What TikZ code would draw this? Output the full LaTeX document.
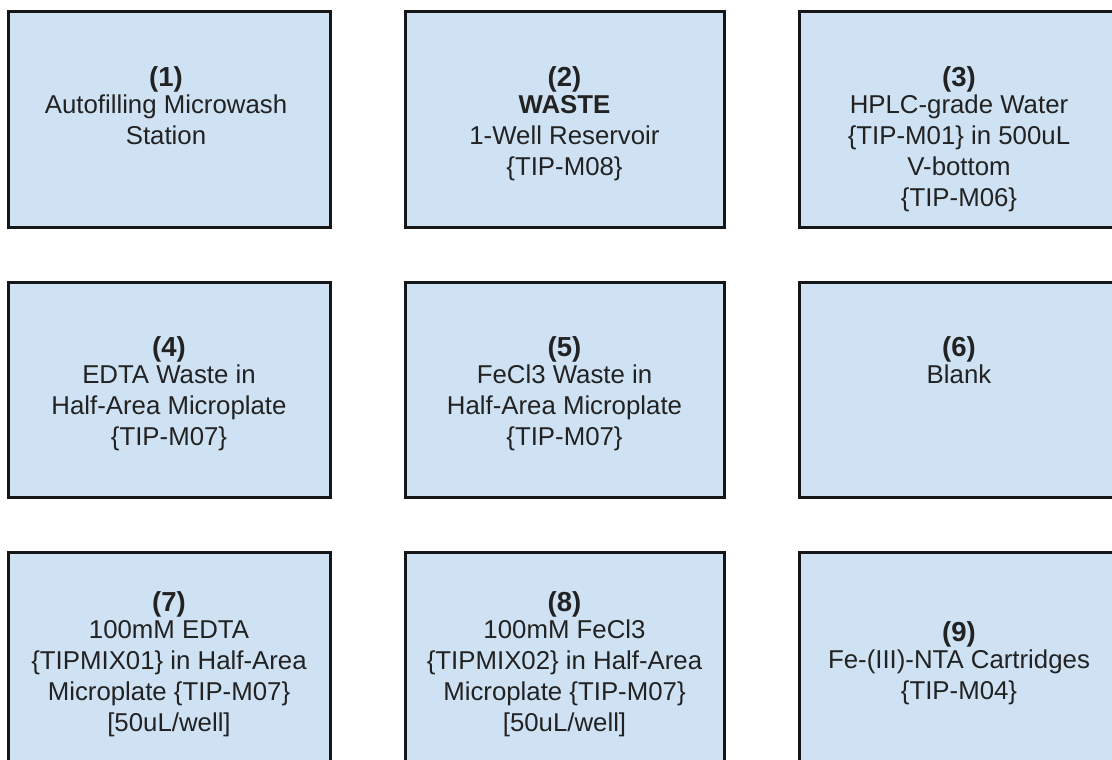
\documentclass[tikz,border=0pt]{standalone}
\usepackage{fontspec}
\setmainfont{Liberation Sans}
\definecolor{boxfill}{HTML}{CFE2F3}
\definecolor{boxline}{HTML}{161616}
\definecolor{txtcol}{HTML}{222222}
\begin{document}
\begin{tikzpicture}[x=1pt,y=-1pt,
  cell/.style={rectangle, draw=boxline, line width=3pt, fill=boxfill,
    anchor=north west, inner sep=0pt, outer sep=0pt,
    minimum width=#1},
  cell/.default=320pt,
  txt/.style={anchor=north, align=center, inner sep=0pt, outer sep=0pt,
    font=\fontsize{25.8}{31}\selectfont, text=txtcol}]
\useasboundingbox (0,0) rectangle (1112,760);
\clip (0,0) rectangle (1112,760);
% row 1
\node[cell=321.5pt, minimum height=215pt] (b1) at (8.5,12) {};
\node[cell=319pt,   minimum height=215pt] (b2) at (405,12) {};
\node[cell=320pt,   minimum height=215pt] (b3) at (799,12) {};
% row 2
\node[cell=321.5pt, minimum height=214.5pt] (b4) at (8.5,282.5) {};
\node[cell=319pt,   minimum height=214.5pt] (b5) at (405,282.5) {};
\node[cell=320pt,   minimum height=214.5pt] (b6) at (799,282.5) {};
% row 3
\node[cell=321.5pt, minimum height=230pt] (b7) at (8.5,552.5) {};
\node[cell=319pt,   minimum height=230pt] (b8) at (405,552.5) {};
\node[cell=320pt,   minimum height=230pt] (b9) at (799,552.5) {};
% texts
\node[txt] (t1) at (166,67) {\textbf{\fontsize{27.5}{31}\selectfont (1)}\\[-4pt]Autofilling Microwash\\Station};
\node[txt] (t2) at (564.5,67) {\textbf{\fontsize{27.5}{31}\selectfont (2)}\\[-4pt]\textbf{WASTE}\\1-Well Reservoir\\\{TIP-M08\}};
\node[txt] (t3) at (959,67) {\textbf{\fontsize{27.5}{31}\selectfont (3)}\\[-4pt]HPLC-grade Water\\\{TIP-M01\} in 500uL\\V-bottom\\\{TIP-M06\}};
\node[txt] (t4) at (169,337) {\textbf{\fontsize{27.5}{31}\selectfont (4)}\\[-4pt]EDTA Waste in\\Half-Area Microplate\\\{TIP-M07\}};
\node[txt] (t5) at (564.5,337) {\textbf{\fontsize{27.5}{31}\selectfont (5)}\\[-4pt]FeCl3 Waste in\\Half-Area Microplate\\\{TIP-M07\}};
\node[txt] (t6) at (959,337) {\textbf{\fontsize{27.5}{31}\selectfont (6)}\\[-4pt]Blank};
\node[txt] (t7) at (169,592) {\textbf{\fontsize{27.5}{31}\selectfont (7)}\\[-4pt]100mM EDTA\\\{TIPMIX01\} in Half-Area\\Microplate \{TIP-M07\}\\{}[50uL/well]};
\node[txt] (t8) at (564.5,592) {\textbf{\fontsize{27.5}{31}\selectfont (8)}\\[-4pt]100mM FeCl3\\\{TIPMIX02\} in Half-Area\\Microplate \{TIP-M07\}\\{}[50uL/well]};
\node[txt] (t9) at (959,622) {\textbf{\fontsize{27.5}{31}\selectfont (9)}\\[-4pt]Fe-(III)-NTA Cartridges\\\{TIP-M04\}};
\end{tikzpicture}
\end{document}
